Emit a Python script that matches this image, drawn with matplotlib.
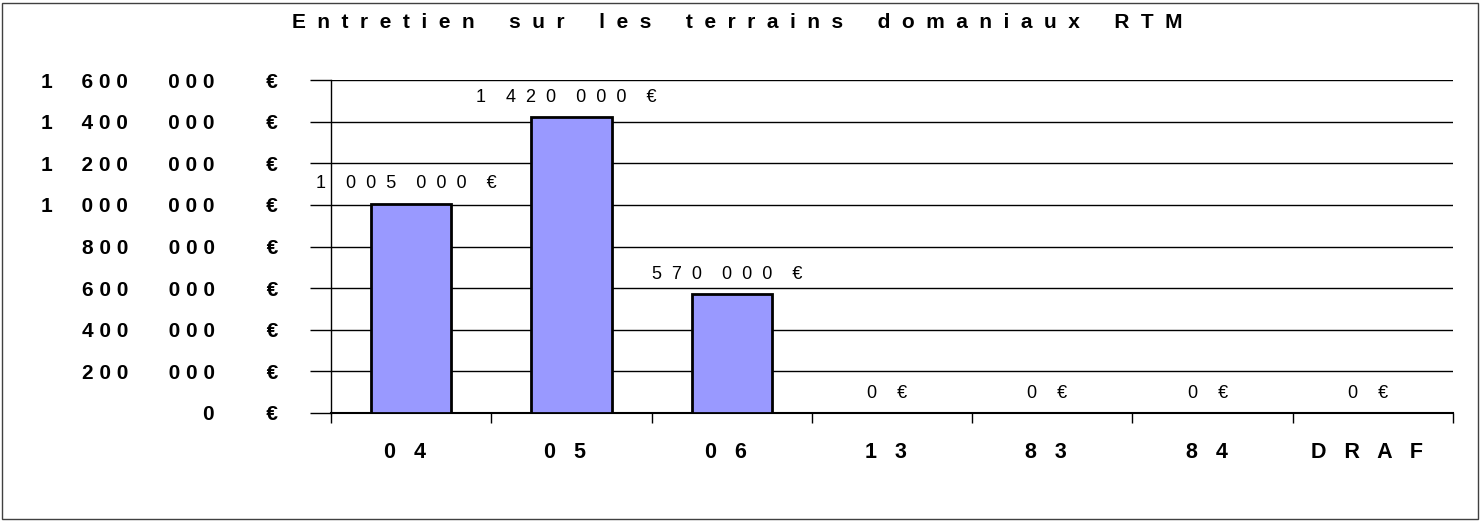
import matplotlib
matplotlib.use("Agg")
import matplotlib.pyplot as plt
from matplotlib.patches import Rectangle
from matplotlib.ticker import FuncFormatter, FixedLocator, NullFormatter

plt.rcParams['font.family'] = ['Liberation Sans', 'DejaVu Sans']

# ---- data ----
title = "Entretien sur les terrains domaniaux RTM"
categories = ["04", "05", "06", "13", "83", "84", "DRAF"]
values = [1005000, 1420000, 570000, 0, 0, 0, 0]
y_ticks = [0, 200000, 400000, 600000, 800000, 1000000, 1200000, 1400000, 1600000]

BAR_COLOR = "#9999FF"


def spaced_number(v, inner=" ", sep="    ", first_sep=None, euro_sep=None):
    groups = f"{int(v):,}".split(",")
    parts = [inner.join(g) for g in groups]
    out = parts[0]
    for i, p in enumerate(parts[1:]):
        s = sep
        if i == 0 and first_sep is not None and len(groups[0]) == 1:
            s = first_sep
        out += s + p
    return out + (euro_sep if euro_sep is not None else sep) + "€"


def spaced_text(t, inner=" ", word="   "):
    return word.join(inner.join(w) for w in t.split(" "))


W, H = 1482, 522
fig = plt.figure(figsize=(W / 100, H / 100), dpi=100)
fig.patch.set_facecolor("white")

# figure border
fig.add_artist(Rectangle((2 / W, 3 / H), 1476 / W, 516 / H, transform=fig.transFigure,
                         fill=False, edgecolor="#404040", linewidth=1.0))

left, right, bottom, top = 331, 1453, 413, 80
ax = fig.add_axes([left / W, 1 - bottom / H, (right - left) / W, (bottom - top) / H])

x = list(range(len(categories)))
ax.bar(x, values, width=0.5, color=BAR_COLOR, edgecolor="black", linewidth=2, zorder=3)

ax.set_xlim(-0.5, len(categories) - 0.5)
ax.set_ylim(0, 1600000)

# y axis
ax.yaxis.set_major_locator(FixedLocator(y_ticks))
ax.yaxis.set_major_formatter(FuncFormatter(
    lambda v, p: spaced_number(v, inner=" ", sep=" " * 7, first_sep=" " * 5,
                               euro_sep=" " * 9)))
ax.tick_params(axis="y", direction="out", length=15, width=1, color="black", pad=23,
               labelsize=15)
for lab in ax.get_yticklabels():
    lab.set_fontweight("bold")
ax.grid(axis="y", color="black", linewidth=1, zorder=0)

# x axis: ticks at category boundaries, labels drawn below each category
ax.set_xticks(x)
ax.xaxis.set_major_formatter(NullFormatter())
ax.tick_params(axis="x", which="major", length=0)
ax.set_xticks([i - 0.5 for i in range(len(categories) + 1)], minor=True)
ax.tick_params(axis="x", which="minor", direction="out", length=7, width=1, color="black")
for xi, c in zip(x, categories):
    ax.annotate(spaced_text(c, inner="   "), (xi, 0), xycoords=ax.get_xaxis_transform(),
                xytext=(-6, -39), textcoords="offset pixels", ha="center", va="center",
                fontsize=15.5, fontweight="bold")

for s in ["top", "right"]:
    ax.spines[s].set_visible(False)
ax.spines["left"].set_color("black")
ax.spines["bottom"].set_color("black")
ax.spines["left"].set_linewidth(1)
ax.spines["bottom"].set_linewidth(1.5)

# data labels
for xi, v in zip(x, values):
    ax.annotate(spaced_number(v, inner="  ", sep="    ", euro_sep="    "),
                (xi, v), xytext=(-5, 20), textcoords="offset pixels",
                ha="center", va="center", fontsize=13, zorder=4)

fig.text(737 / W, 1 - 22 / H, spaced_text(title, inner="  ", word="      "),
         ha="center", va="center", fontsize=15, fontweight="bold")

fig.savefig("out.png", dpi=100)
